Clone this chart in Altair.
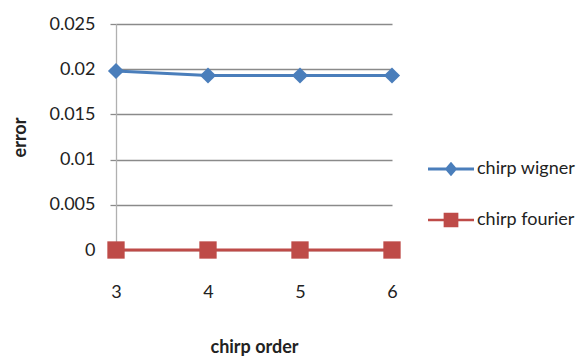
import altair as alt
import pandas as pd

orders = [3, 4, 5, 6]
wigner = [0.0198, 0.0193, 0.0193, 0.0193]
fourier = [0.0, 0.0, 0.0, 0.0]
series_names = ["chirp wigner", "chirp fourier"]
colors = ["#4A7EBB", "#BE4B48"]
y_ticks = [0, 0.005, 0.01, 0.015, 0.02, 0.025]

rows = []
for o, w in zip(orders, wigner):
    rows.append({"order": o, "error": w, "series": series_names[0]})
for o, f in zip(orders, fourier):
    rows.append({"order": o, "error": f, "series": series_names[1]})
df = pd.DataFrame(rows)

FONT = "Lato"
FS = 18
TXT = "#222222"

# legend symbols: line segment + marker (unit coords, scaled by sqrt(size)/2)
path_w = "M-1,-0.07L1,-0.07L1,0.07L-1,0.07Z M0,-0.32L0.27,0L0,0.32L-0.27,0Z"
path_f = "M-1,-0.055L1,-0.055L1,0.055L-1,0.055Z M-0.32,-0.32L0.32,-0.32L0.32,0.32L-0.32,0.32Z"

label_expr = "datum.value == 0 ? '0' : format(datum.value, '.3~f')"

x_enc = alt.X(
    "order:Q",
    scale=alt.Scale(domain=[3, 6], nice=False, zero=False),
    axis=alt.Axis(
        values=orders, format="d", title="chirp order", grid=False, domain=False,
        ticks=False, labelFlush=False, labelPadding=33, titlePadding=37,
        labelFont=FONT, labelFontSize=FS, labelColor=TXT, titleFont=FONT,
        titleFontSize=FS, titleFontWeight="bold", titleColor=TXT,
    ),
)
y_enc = alt.Y(
    "error:Q",
    scale=alt.Scale(domain=[0, 0.025], nice=False),
    axis=alt.Axis(
        values=y_ticks, labelExpr=label_expr, title="error", grid=True,
        gridColor="#8a8a8a", gridWidth=1.3, domainColor="#b0b0b0", domainWidth=1.3,
        tickColor="#8a8a8a", tickSize=6, tickWidth=1.3, labelPadding=15,
        labelFlush=False, labelFont=FONT, labelFontSize=FS, labelColor=TXT,
        titleFont=FONT, titleFontSize=FS, titleFontWeight="bold", titleColor=TXT,
        titlePadding=19,
    ),
)

base = alt.Chart(df)
layers = []
for name, col, shp, sz in zip(series_names, colors, ["diamond", "square"], [260, 300]):
    sub = base.transform_filter(alt.datum.series == name)
    layers.append(sub.mark_line(strokeWidth=3, color=col).encode(x=x_enc, y=y_enc))
    layers.append(sub.mark_point(shape=shp, filled=True, size=sz, opacity=1, color=col).encode(x=x_enc, y=y_enc))

leg = alt.Legend(title=None, orient="none", legendX=312, legendY=122,
                 labelFont=FONT, labelFontSize=FS, labelColor=TXT,
                 symbolSize=2116, symbolStrokeWidth=0, symbolOpacity=1,
                 rowPadding=19, labelOffset=3, padding=0)

legend_layer = base.mark_point(filled=True, size=10, opacity=0).encode(
    x=x_enc, y=y_enc,
    color=alt.Color("series:N", scale=alt.Scale(domain=series_names, range=colors), legend=leg),
    shape=alt.Shape("series:N", scale=alt.Scale(domain=series_names, range=[path_w, path_f]), legend=leg),
)
layers.append(legend_layer)

chart = alt.layer(*layers).properties(
    width=276, height=226,
    autosize=alt.AutoSizeParams(type="none"),
    padding={"left": 116, "top": 24, "right": 193, "bottom": 108},
    background="white",
).configure_view(stroke=None)

chart.save("out.html", embed_options={"renderer": "svg", "actions": False})
